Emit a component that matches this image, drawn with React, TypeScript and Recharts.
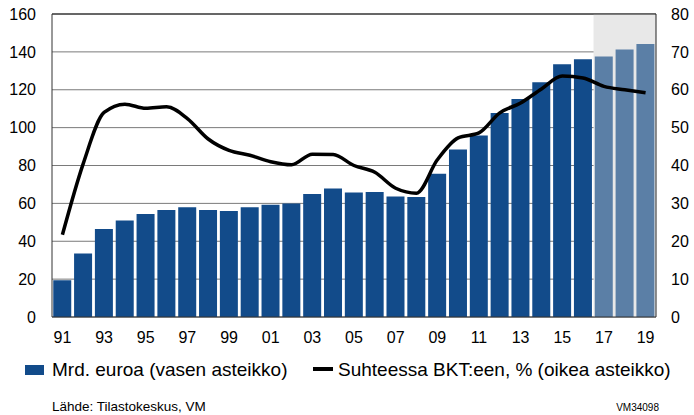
import React from 'react'
import { Bar, Cell, ComposedChart, CartesianGrid, Line, ReferenceArea, ReferenceLine, XAxis, YAxis } from 'recharts'

// vuodet 1991-2019, 17-19 ennustetta
const years = ['91', '92', '93', '94', '95', '96', '97', '98', '99', '00', '01', '02', '03', '04', '05',
    '06', '07', '08', '09', '10', '11', '12', '13', '14', '15', '16', '17', '18', '19']
const debtBn = [19.4, 33.5, 46.5, 51, 54.4, 56.5, 58, 56.5, 56, 58, 59.3, 60, 65, 67.8, 65.8,
    66, 63.6, 63.4, 75.7, 88.4, 95.8, 107.7, 115.1, 124, 133.5, 136.1, 137.5, 141.2, 144.2]
const debtPctGdp = [21.7, 40.5, 54, 56.2, 55.1, 55.5, 52.4, 47, 44, 42.7, 41, 40.2, 43, 42.9, 40,
    38.2, 34, 32.7, 41.5, 47.3, 48.6, 53.9, 56.5, 60.2, 63.6, 63.1, 60.9, 60, 59.2]
const forecastYears = ['17', '18', '19']
const leftTicks = [0, 20, 40, 60, 80, 100, 120, 140, 160]
const rightTicks = [0, 10, 20, 30, 40, 50, 60, 70, 80]

const barLabel = 'Mrd. euroa (vasen asteikko)'
const lineLabel = 'Suhteessa BKT:een, % (oikea asteikko)'

const data = years.map((y, i) => ({ year: y, debt: debtBn[i], pct: debtPctGdp[i] }))

const font = '"Liberation Sans", Arial, sans-serif'
const tickStyle = { fontSize: 16, fill: '#000', fontFamily: font }

export default function App() {
    return (
        <div style={{ position: 'absolute', left: 0, top: 0, width: 694, height: 415, background: '#fff', fontFamily: font }}>
            <ComposedChart width={694} height={348} data={data} barCategoryGap="6%"
                margin={{ top: 14, right: 0, left: 0, bottom: 0 }}>
                <ReferenceArea yAxisId="left" x1={forecastYears[0]} x2={forecastYears[forecastYears.length - 1]}
                    y1={0} y2={160} fill="#e8e8e8" fillOpacity={1} stroke="none" />
                <CartesianGrid yAxisId="left" vertical={false} stroke="#7a7a7a" />
                <XAxis dataKey="year" interval={1} tickLine={false} tickMargin={9} height={31}
                    tick={tickStyle} axisLine={{ stroke: '#333' }} />
                <YAxis yAxisId="left" domain={[0, 160]} ticks={leftTicks} width={52} tickLine={false}
                    tickMargin={10} tick={tickStyle} axisLine={{ stroke: '#333' }} />
                <YAxis yAxisId="right" orientation="right" domain={[0, 80]} ticks={rightTicks} width={38}
                    tickLine={false} tickMargin={9} tick={tickStyle} axisLine={{ stroke: '#222' }} />
                <ReferenceLine yAxisId="left" y={160} stroke="#111" />
                <Bar yAxisId="left" dataKey="debt" isAnimationActive={false}>
                    {data.map((d) => (
                        <Cell key={d.year} fill={forecastYears.includes(d.year) ? '#5b7fa6' : '#124b8a'} />
                    ))}
                </Bar>
                <Line yAxisId="right" dataKey="pct" type="monotone" stroke="#000" strokeWidth={3.5}
                    dot={false} isAnimationActive={false} />
            </ComposedChart>
            <div style={{ position: 'absolute', left: 25, top: 365, width: 19, height: 10, background: '#124b8a' }} />
            <div style={{ position: 'absolute', left: 52, top: 358, fontSize: 19, lineHeight: '24px', whiteSpace: 'nowrap' }}>{barLabel}</div>
            <div style={{ position: 'absolute', left: 313, top: 367, width: 20, height: 3.5, background: '#000' }} />
            <div style={{ position: 'absolute', left: 338, top: 358, fontSize: 19, lineHeight: '24px', whiteSpace: 'nowrap' }}>{lineLabel}</div>
            <div style={{ position: 'absolute', left: 52, top: 399, fontSize: 13.5, lineHeight: '16px', whiteSpace: 'nowrap' }}>Lähde: Tilastokeskus, VM</div>
            <div style={{ position: 'absolute', right: 35, top: 402, fontSize: 10, lineHeight: '12px', whiteSpace: 'nowrap' }}>VM34098</div>
        </div>
    )
}
